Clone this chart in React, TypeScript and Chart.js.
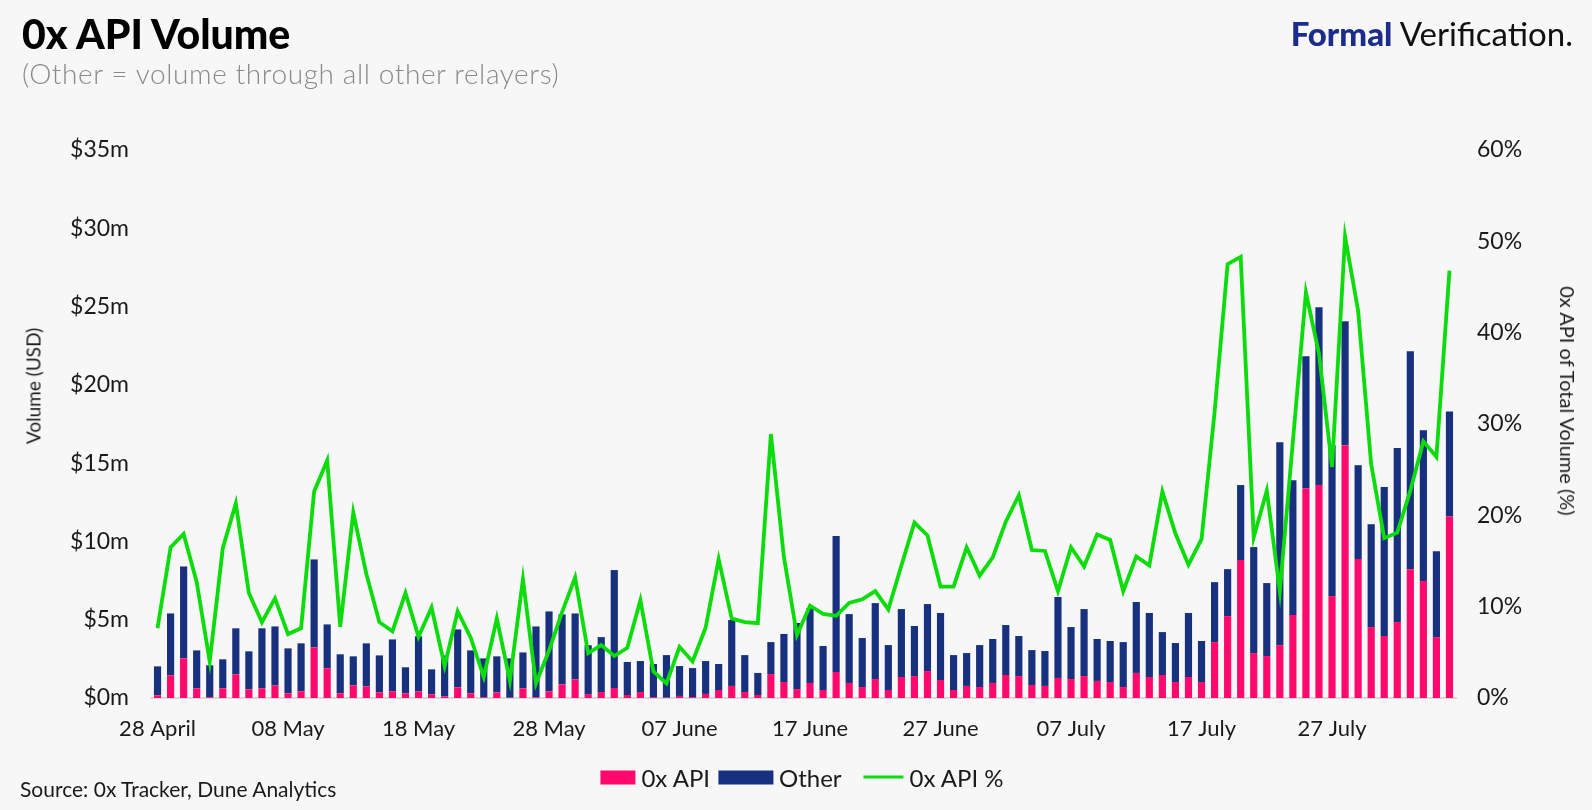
import { useEffect, useRef } from "react";
import { Chart, registerables } from "chart.js";

Chart.register(...registerables);

// one bar per day, 28 April – 05 August
const dates = [
  "28 April", "29 April", "30 April",
  "01 May", "02 May", "03 May", "04 May", "05 May", "06 May", "07 May", "08 May", "09 May", "10 May",
  "11 May", "12 May", "13 May", "14 May", "15 May", "16 May", "17 May", "18 May", "19 May", "20 May",
  "21 May", "22 May", "23 May", "24 May", "25 May", "26 May", "27 May", "28 May", "29 May", "30 May", "31 May",
  "01 June", "02 June", "03 June", "04 June", "05 June", "06 June", "07 June", "08 June", "09 June", "10 June",
  "11 June", "12 June", "13 June", "14 June", "15 June", "16 June", "17 June", "18 June", "19 June", "20 June",
  "21 June", "22 June", "23 June", "24 June", "25 June", "26 June", "27 June", "28 June", "29 June", "30 June",
  "01 July", "02 July", "03 July", "04 July", "05 July", "06 July", "07 July", "08 July", "09 July", "10 July",
  "11 July", "12 July", "13 July", "14 July", "15 July", "16 July", "17 July", "18 July", "19 July", "20 July",
  "21 July", "22 July", "23 July", "24 July", "25 July", "26 July", "27 July", "28 July", "29 July", "30 July", "31 July",
  "01 August", "02 August", "03 August", "04 August", "05 August",
];

const tickLabels = [
  "28 April", "08 May", "18 May", "28 May", "07 June",
  "17 June", "27 June", "07 July", "17 July", "27 July",
];

// $m
const apiVolume = [
  0.17, 1.45, 2.53, 0.62, 0.05, 0.62, 1.51, 0.55, 0.62, 0.81,
  0.3, 0.43, 3.23, 1.9, 0.3, 0.81, 0.74, 0.36, 0.43, 0.3,
  0.43, 0.23, 0.1, 0.68, 0.3, 0.05, 0.36, 0.02, 0.62, 0.05,
  0.43, 0.87, 1.19, 0.25, 0.38, 0.64, 0.19, 0.38, 0.06, 0.02,
  0.13, 0.06, 0.26, 0.51, 0.77, 0.38, 0.19, 1.53, 1.02, 0.57,
  0.96, 0.51, 1.66, 0.96, 0.7, 1.21, 0.51, 1.34, 1.4, 1.72,
  1.15, 0.51, 0.77, 0.7, 0.96, 1.47, 1.4, 0.83, 0.77, 1.28,
  1.21, 1.4, 1.09, 1.02, 0.7, 1.6, 1.34, 1.47, 1.02, 1.34,
  1.02, 3.57, 5.23, 8.81, 2.87, 2.68, 3.38, 5.3, 13.4, 13.6,
  6.51, 16.15, 8.87, 4.53, 3.96, 4.85, 8.23, 7.47, 3.89, 11.6,
];

// $m
const otherVolume = [
  1.85, 3.95, 5.87, 2.42, 2.04, 1.85, 2.94, 2.43, 3.83, 3.76,
  2.87, 3.06, 5.62, 2.8, 2.49, 1.85, 2.75, 2.36, 3.31, 1.66,
  3.51, 1.6, 2.62, 3.7, 2.74, 2.48, 2.3, 2.51, 2.29, 4.52,
  5.1, 4.47, 4.21, 3.12, 3.51, 7.53, 2.11, 1.98, 2.11, 2.72,
  1.91, 1.85, 2.1, 1.66, 4.21, 2.36, 1.41, 2.04, 3.07, 4.22,
  4.78, 2.81, 8.68, 4.4, 3.13, 4.85, 2.87, 4.34, 3.2, 4.28,
  4.28, 2.23, 2.1, 2.68, 2.81, 3.19, 2.56, 2.23, 2.23, 5.17,
  3.32, 4.28, 2.68, 2.62, 2.87, 4.53, 4.09, 2.74, 2.49, 4.09,
  2.62, 3.83, 3.0, 4.79, 6.77, 4.66, 12.96, 8.6, 8.43, 11.36,
  9.64, 7.91, 6.0, 6.57, 9.51, 11.11, 13.92, 9.63, 5.49, 6.7,
];

// % of total volume
const apiShare = [
  7.65, 16.5, 17.96, 12.7, 4.0, 16.4, 21.3, 11.5, 8.3, 10.9,
  7.0, 7.65, 22.6, 26.0, 7.8, 20.3, 13.6, 8.3, 7.3, 11.5,
  6.7, 9.9, 3.5, 9.5, 6.6, 2.3, 8.7, 1.9, 13.0, 1.6,
  5.2, 9.4, 13.2, 4.9, 5.8, 4.6, 5.5, 10.7, 2.9, 1.6,
  5.6, 4.0, 7.7, 15.2, 8.7, 8.3, 8.2, 28.9, 15.4, 6.9,
  10.1, 9.2, 9.0, 10.4, 10.8, 11.7, 9.7, 14.5, 19.2, 17.8,
  12.2, 12.2, 16.5, 13.4, 15.4, 19.3, 22.2, 16.2, 16.1, 11.7,
  16.5, 14.4, 17.9, 17.3, 11.7, 15.5, 14.5, 22.6, 18.0, 14.6,
  17.4, 31.3, 47.5, 48.3, 17.6, 22.7, 11.7, 28.1, 44.4, 37.7,
  25.3, 50.5, 42.4, 25.6, 17.5, 18.1, 22.7, 28.1, 26.4, 46.8,
];

const PINK = "#ff0a6c";
const NAVY = "#17317f";
const GREEN = "#0cdc0c";
const TEXT = "#1a1a1a";
const FONT = "Lato, 'Noto Sans', sans-serif";

export default function App() {
  const canvasRef = useRef<HTMLCanvasElement | null>(null);
  const chartRef = useRef<Chart | null>(null);

  useEffect(() => {
    if (!canvasRef.current) return;
    chartRef.current?.destroy();
    chartRef.current = new Chart(canvasRef.current, {
      type: "bar",
      data: {
        labels: dates,
        datasets: [
          {
            type: "line",
            label: "0x API %",
            data: apiShare,
            yAxisID: "y1",
            borderColor: GREEN,
            backgroundColor: GREEN,
            borderWidth: 3.8,
            pointRadius: 0,
            tension: 0,
            order: 0,
          },
          {
            type: "bar",
            label: "0x API",
            data: apiVolume,
            yAxisID: "y",
            stack: "vol",
            backgroundColor: PINK,
            barPercentage: 0.55,
            categoryPercentage: 1,
            order: 1,
          },
          {
            type: "bar",
            label: "Other",
            data: otherVolume,
            yAxisID: "y",
            stack: "vol",
            backgroundColor: NAVY,
            barPercentage: 0.55,
            categoryPercentage: 1,
            order: 1,
          },
        ],
      },
      options: {
        responsive: true,
        maintainAspectRatio: false,
        animation: false,
        layout: { padding: { top: 150, bottom: 62, left: 0, right: 0 } },
        plugins: {
          legend: { display: false },
          tooltip: { enabled: false },
        },
        scales: {
          x: {
            stacked: true,
            grid: { display: false, drawTicks: false },
            border: { display: true, color: "#d9d9d9", width: 2 },
            ticks: {
              autoSkip: false,
              maxRotation: 0,
              minRotation: 0,
              padding: 18,
              color: TEXT,
              font: { family: FONT, size: 22 },
              callback: (_v, i) => (tickLabels.includes(dates[i]) ? dates[i] : ""),
            },
            afterFit: (s) => {
              s.height = 50;
            },
          },
          y: {
            stacked: true,
            position: "left",
            min: 0,
            max: 35,
            grid: { display: false, drawTicks: false },
            border: { display: false },
            ticks: {
              stepSize: 5,
              padding: 22,
              color: TEXT,
              font: { family: FONT, size: 23 },
              callback: (v) => `$${v}m`,
            },
            afterFit: (s) => {
              s.width = 151;
            },
          },
          y1: {
            position: "right",
            min: 0,
            max: 60,
            grid: { display: false, drawTicks: false },
            border: { display: false },
            ticks: {
              stepSize: 10,
              padding: 21,
              color: TEXT,
              font: { family: FONT, size: 23 },
              callback: (v) => `${v}%`,
            },
            afterFit: (s) => {
              s.width = 136;
            },
          },
        },
      },
    });
    return () => {
      chartRef.current?.destroy();
      chartRef.current = null;
    };
  }, []);

  const swatch = (color: string, w: number, h: number) => (
    <span style={{ display: "inline-block", width: w, height: h, background: color, marginRight: 6 }} />
  );

  return (
    <div
      style={{
        position: "fixed",
        left: 0,
        top: 0,
        width: 1592,
        height: 810,
        background: "#f7f7f7",
        fontFamily: FONT,
        color: TEXT,
        overflow: "hidden",
      }}
    >
      <div style={{ position: "absolute", left: 0, top: 0, width: 1592, height: 810 }}>
        <canvas ref={canvasRef} />
      </div>

      <div style={{ position: "absolute", left: 22, top: 10, fontSize: 41, fontWeight: 900, color: "#000", lineHeight: "48px" }}>
        0x API Volume
      </div>
      <div
        style={{
          position: "absolute",
          left: 22,
          top: 56,
          fontSize: 28,
          fontWeight: 300,
          letterSpacing: 0.6,
          color: "#8a8a8a",
          lineHeight: "34px",
          whiteSpace: "nowrap",
        }}
      >
        (Other = volume through all other relayers)
      </div>
      <div style={{ position: "absolute", right: 19, top: 13, fontSize: 33, lineHeight: "40px", whiteSpace: "nowrap" }}>
        <span style={{ fontWeight: 900, color: "#1c2c8c" }}>Formal</span>
        <span style={{ fontWeight: 400, color: "#111" }}> Verification.</span>
      </div>

      <div
        style={{
          position: "absolute",
          left: 33,
          top: 386,
          transform: "translate(-50%, -50%) rotate(-90deg)",
          fontSize: 19,
          whiteSpace: "nowrap",
        }}
      >
        Volume (USD)
      </div>
      <div
        style={{
          position: "absolute",
          left: 1568,
          top: 401,
          transform: "translate(-50%, -50%) rotate(90deg)",
          fontSize: 20,
          whiteSpace: "nowrap",
        }}
      >
        0x API of Total Volume (%)
      </div>

      <div style={{ position: "absolute", left: 20, top: 777, fontSize: 21, lineHeight: "24px", whiteSpace: "nowrap" }}>
        Source: 0x Tracker, Dune Analytics
      </div>

      <div
        style={{
          position: "absolute",
          left: 802,
          top: 777,
          transform: "translate(-50%, -50%)",
          display: "flex",
          alignItems: "center",
          fontSize: 24,
          whiteSpace: "nowrap",
        }}
      >
        {swatch(PINK, 35, 14)}
        <span style={{ marginRight: 8 }}>0x API</span>
        {swatch(NAVY, 55, 14)}
        <span style={{ marginRight: 22 }}>Other</span>
        {swatch(GREEN, 40, 3)}
        <span>0x API %</span>
      </div>
    </div>
  );
}
